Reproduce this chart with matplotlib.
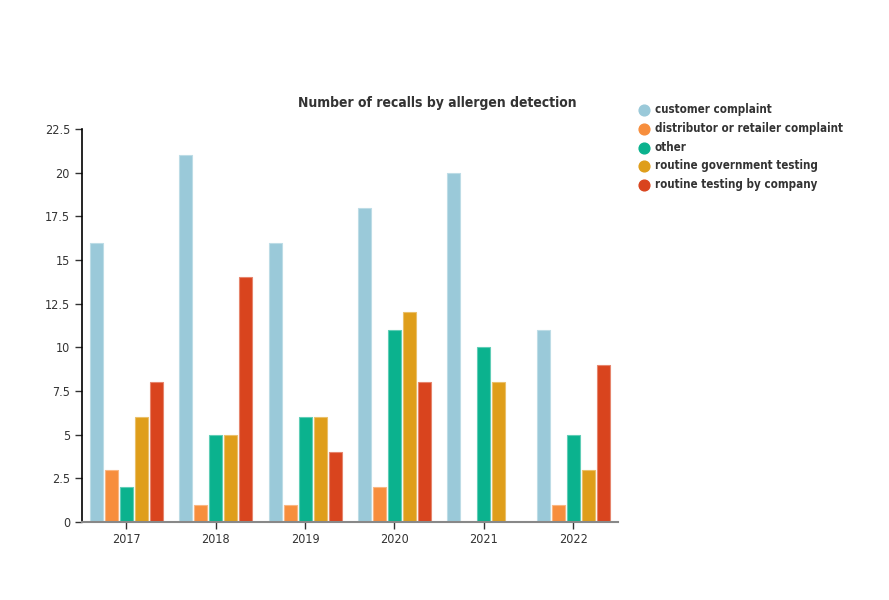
import numpy as np
import matplotlib.pyplot as plt
from matplotlib.colors import to_rgb

plt.rcParams['font.family'] = ['DejaVu Sans']
plt.rcParams['font.stretch'] = 'condensed'

years = ['2017', '2018', '2019', '2020', '2021', '2022']
series = ['customer complaint', 'distributor or retailer complaint', 'other',
          'routine government testing', 'routine testing by company']
customer = [16, 21, 16, 18, 20, 11]
distributor = [3, 1, 1, 2, 0, 1]
other = [2, 5, 6, 11, 10, 5]
government = [6, 5, 6, 12, 8, 3]
company = [8, 14, 4, 8, 0, 9]
values = [customer, distributor, other, government, company]
colors = ['#9ac9d9', '#f78e3d', '#0bb28e', '#df9e1a', '#d9441e']

fig = plt.figure(figsize=(8.89, 6.0), dpi=100)
ax = fig.add_axes([0.092, 0.13, 0.603, 0.655])

x = np.arange(len(years))
step = 0.168
width = 0.146
for i, (name, vals, c) in enumerate(zip(series, values, colors)):
    edge = tuple(v + (1 - v) * 0.35 for v in to_rgb(c))
    pos = x + (i - 2) * step
    for p, v in zip(pos, vals):
        if v > 0:
            ax.bar(p, v, width=width, color=c, edgecolor=edge, linewidth=0.8, zorder=2)
    ax.scatter([], [], s=60, color=c, label=name)

ax.set_xlim(-0.5, len(years) - 0.5)
ax.set_ylim(0, 22.5)
ax.set_yticks(np.arange(0, 22.6, 2.5))
ax.set_yticklabels(['0', '2.5', '5', '7.5', '10', '12.5', '15', '17.5', '20', '22.5'])
ax.set_xticks(x)
ax.set_xticklabels(years)
ax.tick_params(axis='both', labelsize=9, colors='#333333', length=5, width=1)
ax.tick_params(axis='x', pad=3)

for side in ['top', 'right']:
    ax.spines[side].set_visible(False)
ax.spines['left'].set_color('black')
ax.spines['left'].set_linewidth(1.2)
ax.spines['bottom'].set_color('#888888')
ax.spines['bottom'].set_linewidth(1.5)

ax.set_title('Number of recalls by allergen detection', fontsize=10, fontweight='bold',
             color='#333333', x=0.664, pad=16)

leg = fig.legend(loc='upper left', bbox_to_anchor=(0.713, 0.836), frameon=False,
                 fontsize=8.3, handletextpad=0.5, labelspacing=0.5,
                 handlelength=0.9, borderaxespad=0)
for t in leg.get_texts():
    t.set_fontweight('bold')
    t.set_color('#333333')

fig.savefig('out.png', dpi=100)
